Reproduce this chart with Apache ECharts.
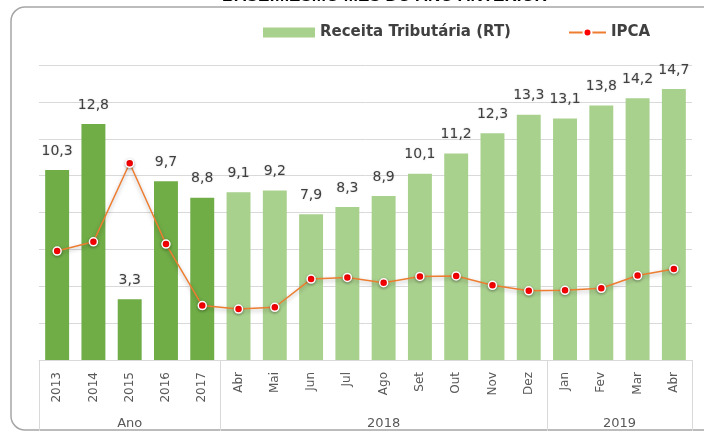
<!DOCTYPE html>
<html>
<head>
<meta charset="utf-8">
<script src="https://cdn.jsdelivr.net/npm/echarts@6/dist/echarts.min.js"></script>
<style>
  html, body { margin: 0; padding: 0; background: #fff; }
  #chart { width: 704px; height: 431px; }
</style>
</head>
<body>
<div id="chart"></div>
<script>
// categorias (anos e meses)
var categories = ['2013','2014','2015','2016','2017','Abr','Mai','Jun','Jul','Ago','Set','Out','Nov','Dez','Jan','Fev','Mar','Abr'];
// Receita Tributária (RT)
var receita = [10.3, 12.8, 3.3, 9.7, 8.8, 9.1, 9.2, 7.9, 8.3, 8.9, 10.1, 11.2, 12.3, 13.3, 13.1, 13.8, 14.2, 14.7];
// IPCA
var ipca = [5.91, 6.41, 10.67, 6.29, 2.95, 2.76, 2.86, 4.39, 4.48, 4.19, 4.53, 4.56, 4.05, 3.75, 3.78, 3.89, 4.58, 4.94];
// grupos do eixo
var groupNames = ['Ano', '2018', '2019'];
var groupSizes = [5, 9, 4];

var darkGreen = '#70AD47';
var lightGreen = '#A9D18E';

// limites e centros dos grupos
var bounds = [0];
var centers = [];
groupSizes.forEach(function(n){
    var start = bounds[bounds.length - 1];
    centers.push(start + n / 2);
    bounds.push(start + n);
});

var barData = receita.map(function(v, i){
    if (i < groupSizes[0]) {
        return { value: v, itemStyle: { color: darkGreen } };
    }
    return v;
});

var dom = document.getElementById('chart');
var myChart = echarts.init(dom, null, { renderer: 'canvas' });
var option = {
    animation: false,
    title: {
        text: 'BASE:MESMO MÊS DO ANO ANTERIOR',
        left: 222,
        top: -12,
        padding: 0,
        textStyle: {
            fontFamily: 'Liberation Sans',
            fontSize: 17,
            fontWeight: 'bold',
            color: '#000'
        }
    },
    graphic: [{
        type: 'rect',
        shape: { x: 11, y: 7, width: 720, height: 423, r: 14 },
        style: { fill: 'none', stroke: '#a6a6a6', lineWidth: 1.5 },
        silent: true
    }],
    legend: [{
        data: ['Receita Tributária (RT)'],
        left: 263,
        top: 25,
        icon: 'rect',
        itemWidth: 52,
        itemHeight: 10,
        padding: 0,
        textStyle: { fontFamily: 'DejaVu Sans', fontSize: 15, fontWeight: 'bold', color: '#404040' }
    }, {
        data: ['IPCA'],
        left: 568,
        top: 25,
        itemWidth: 37,
        itemHeight: 10,
        padding: 0,
        textStyle: { fontFamily: 'DejaVu Sans', fontSize: 15, fontWeight: 'bold', color: '#404040' }
    }],
    grid: {
        left: 39,
        right: 12,
        top: 65,
        bottom: 71,
        containLabel: false
    },
    xAxis: [{
        type: 'category',
        data: categories,
        position: 'bottom',
        axisLine: { lineStyle: { color: '#d9d9d9', width: 1 } },
        axisTick: { length: 43, lineStyle: { color: '#d9d9d9' } },
        axisLabel: {
            rotate: 90,
            margin: 12,
            interval: 0,
            fontFamily: 'DejaVu Sans',
            fontSize: 12,
            color: '#595959'
        }
    }, {
        type: 'value',
        position: 'bottom',
        min: 0,
        max: categories.length,
        axisLine: { show: false },
        splitLine: { show: false },
        axisTick: {
            customValues: bounds,
            length: 75,
            lineStyle: { color: '#d9d9d9' }
        },
        axisLabel: {
            customValues: centers,
            margin: 57,
            fontFamily: 'DejaVu Sans',
            fontSize: 13,
            color: '#595959',
            formatter: function(v){
                var i = centers.indexOf(v);
                return i >= 0 ? groupNames[i] : '';
            }
        }
    }],
    yAxis: {
        type: 'value',
        min: 0,
        max: 16,
        interval: 2,
        axisLabel: { show: false },
        axisLine: { show: false },
        axisTick: { show: false },
        splitLine: { lineStyle: { color: '#d9d9d9', width: 1 } }
    },
    series: [{
        name: 'Receita Tributária (RT)',
        type: 'bar',
        barWidth: '66%',
        data: barData,
        itemStyle: { color: lightGreen },
        label: {
            show: true,
            position: 'top',
            distance: 12,
            fontFamily: 'DejaVu Sans',
            fontSize: 14,
            color: '#404040',
            textShadowColor: 'rgba(0,0,0,0.2)',
            textShadowBlur: 2,
            formatter: function(p){
                return String(p.value).replace('.', ',');
            }
        }
    }, {
        name: 'IPCA',
        type: 'line',
        data: ipca,
        symbol: 'circle',
        symbolSize: 8,
        lineStyle: {
            color: '#ED7D31',
            width: 1.5,
            shadowColor: 'rgba(0,0,0,0.3)',
            shadowBlur: 4,
            shadowOffsetY: 2
        },
        itemStyle: {
            color: '#FF0000',
            borderColor: '#fff',
            borderWidth: 1.5,
            shadowColor: 'rgba(0,0,0,0.3)',
            shadowBlur: 3,
            shadowOffsetY: 1
        }
    }]
};
myChart.setOption(option);
</script>
</body>
</html>
